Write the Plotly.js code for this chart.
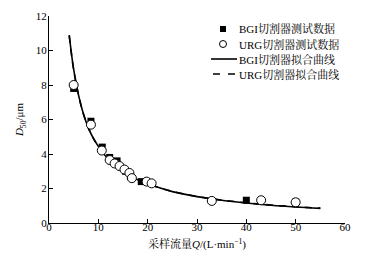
<!DOCTYPE html>
<html>
<head>
<meta charset="utf-8">
<script src="https://cdn.plot.ly/plotly-3.0.1.min.js"></script>
<style>html,body{margin:0;padding:0;background:#fff;}#chart{width:371px;height:259px;}</style>
</head>
<body>
<div id="chart"></div>
<script>
// Measured points
const bgiQ = [5, 8.5, 10.8, 12.3, 13.8, 15.5, 16.5, 18.7, 40, 50];
const bgiD = [7.8, 5.9, 4.4, 3.8, 3.6, 3.0, 2.7, 2.4, 1.32, 1.22];
const urgQ = [5, 8.5, 10.7, 12.3, 13.3, 14.3, 15.3, 16.3, 16.8, 19.8, 20.8, 33, 43, 50];
const urgD = [8.0, 5.7, 4.2, 3.65, 3.45, 3.3, 3.1, 2.9, 2.6, 2.4, 2.3, 1.28, 1.32, 1.2];
// Fitted curves
const fitQ = [4.1, 5, 6, 7, 8, 9, 10, 12, 14, 16, 18, 20, 25, 30, 35, 40, 45, 50, 55];
const bgiFitD = [10.9, 8.9, 7.4, 6.3, 5.5, 4.9, 4.45, 3.7, 3.2, 2.8, 2.5, 2.27, 1.82, 1.53, 1.32, 1.16, 1.03, 0.93, 0.85];
const urgFitD = [10.85, 8.88, 7.4, 6.3, 5.5, 4.9, 4.45, 3.7, 3.2, 2.8, 2.5, 2.27, 1.83, 1.54, 1.33, 1.17, 1.04, 0.94, 0.86];
const xTicks = [0, 10, 20, 30, 40, 50, 60];
const yTicks = [0, 2, 4, 6, 8, 10, 12];
const names = ["BGI切割器测试数据", "URG切割器测试数据", "BGI切割器拟合曲线", "URG切割器拟合曲线"];

const FONT = "'Liberation Serif', 'Times New Roman', 'Noto Serif CJK SC', 'Noto Sans CJK SC', serif";
const W = 371, H = 259;
const M = {l: 49, r: 26, t: 16, b: 36};
const pw = W - M.l - M.r, ph = H - M.t - M.b;
const px2x = p => (p - M.l) / pw;
const py2y = p => (H - M.b - p) / ph;

const DASH = "7px,6px";
const traces = [
  {x: fitQ, y: urgFitD, mode: "lines", name: names[3], line: {color: "#000", width: 1.6, dash: DASH, shape: "spline"}},
  {x: fitQ, y: bgiFitD, mode: "lines", name: names[2], line: {color: "#000", width: 1.6, shape: "spline"}},
  {x: bgiQ, y: bgiD, mode: "markers", name: names[0], marker: {symbol: "square", size: 7, color: "#000"}},
  {x: urgQ, y: urgD, mode: "markers", name: names[1], marker: {symbol: "circle", size: 9, color: "#fff", line: {color: "#000", width: 1}}}
];

// Hand-drawn legend (layout decoration)
const rows = [29, 44, 59, 74];
const symX = 223, txtX = 237;
const shapes = [
  {type: "rect", xref: "paper", yref: "paper", x0: px2x(symX - 3), x1: px2x(symX + 3), y0: py2y(rows[0] + 3), y1: py2y(rows[0] - 3), fillcolor: "#000", line: {width: 0}},
  {type: "circle", xref: "paper", yref: "paper", x0: px2x(symX - 3.5), x1: px2x(symX + 3.5), y0: py2y(rows[1] + 3.5), y1: py2y(rows[1] - 3.5), fillcolor: "#fff", line: {color: "#000", width: 1}},
  {type: "line", xref: "paper", yref: "paper", x0: px2x(211), x1: px2x(237), y0: py2y(rows[2]), y1: py2y(rows[2]), line: {color: "#000", width: 1.6}},
  {type: "line", xref: "paper", yref: "paper", x0: px2x(213), x1: px2x(235), y0: py2y(rows[3]), y1: py2y(rows[3]), line: {color: "#000", width: 1.6, dash: "7px,8px"}}
];
const annotations = names.map((n, i) => ({
  text: n, xref: "paper", yref: "paper", x: px2x(txtX), y: py2y(rows[i]),
  xanchor: "left", yanchor: "middle", showarrow: false, font: {family: FONT, size: 11, color: "#000"}
}));

const layout = {
  width: W, height: H,
  margin: M,
  paper_bgcolor: "#fff", plot_bgcolor: "#fff",
  font: {family: FONT, size: 11, color: "#000"},
  showlegend: false,
  shapes: shapes,
  annotations: annotations,
  xaxis: {
    range: [0, 60], tickvals: xTicks, ticktext: xTicks.map(String),
    showline: true, linecolor: "#000", linewidth: 1, ticks: "inside", ticklen: 4, tickcolor: "#000",
    ticklabelstandoff: -6,
    showgrid: false, zeroline: false, mirror: false,
    title: {text: "采样流量<i>Q</i>/(L·min<sup>−1</sup>)", font: {family: FONT, size: 11}, standoff: 8},
    tickfont: {family: FONT, size: 11}
  },
  yaxis: {
    range: [0, 12], tickvals: yTicks, ticktext: yTicks.map(String),
    showline: true, linecolor: "#000", linewidth: 1, ticks: "inside", ticklen: 4, tickcolor: "#000",
    ticklabelstandoff: -1,
    showgrid: false, zeroline: false, mirror: false,
    title: {text: "<i>D</i><sub>50</sub>/μm", font: {family: FONT, size: 11}, standoff: 9},
    tickfont: {family: FONT, size: 11}
  }
};

Plotly.newPlot("chart", traces, layout, {displayModeBar: false, staticPlot: true});
</script>
</body>
</html>
